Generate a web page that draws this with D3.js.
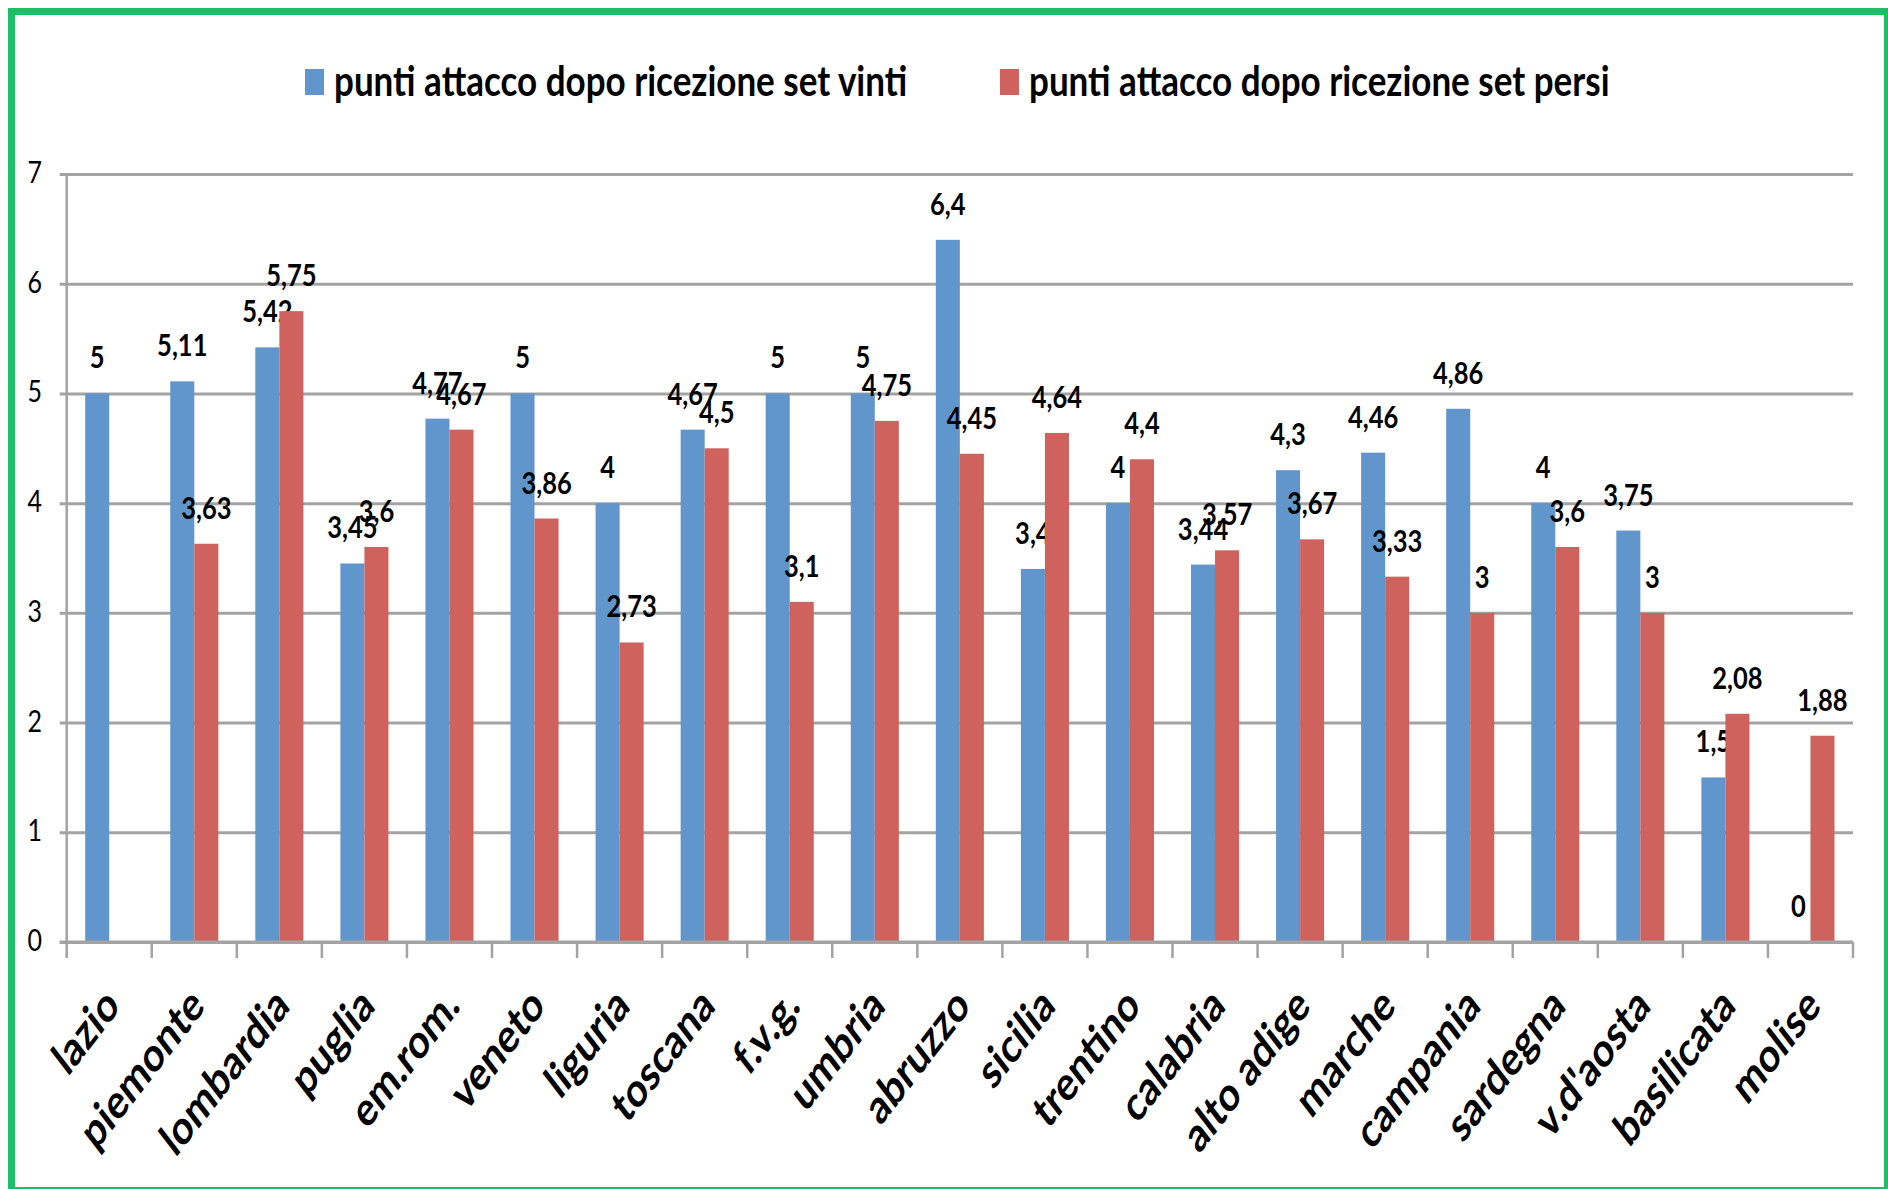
<!DOCTYPE html>
<html>
<head>
<meta charset="utf-8">
<script src="https://cdn.jsdelivr.net/npm/d3@7"></script>
<style>
  html, body { margin: 0; padding: 0; background: #ffffff; }
  svg { display: block; }
  text { font-family: Lato, "Open Sans", "Liberation Sans", sans-serif; fill: #000; }
</style>
</head>
<body>
<svg id="chart" width="1888" height="1189"></svg>
<script>
// Regions along the x axis
const categories = ["lazio", "piemonte", "lombardia", "puglia", "em.rom.", "veneto", "liguria",
  "toscana", "f.v.g.", "umbria", "abruzzo", "sicilia", "trentino", "calabria", "alto adige",
  "marche", "campania", "sardegna", "v.d'aosta", "basilicata", "molise"];

// Attack points after reception, sets won / sets lost (null = no value)
const setVinti = [5, 5.11, 5.42, 3.45, 4.77, 5, 4, 4.67, 5, 5, 6.4, 3.4, 4, 3.44, 4.3, 4.46, 4.86, 4, 3.75, 1.5, 0];
const setPersi = [null, 3.63, 5.75, 3.6, 4.67, 3.86, 2.73, 4.5, 3.1, 4.75, 4.45, 4.64, 4.4, 3.57, 3.67, 3.33, 3, 3.6, 3, 2.08, 1.88];

const seriesNames = ["punti attacco dopo ricezione set vinti", "punti attacco dopo ricezione set persi"];
const seriesColors = ["#6096cc", "#cf625c"];
const yTicks = [0, 1, 2, 3, 4, 5, 6, 7];

const svg = d3.select("#chart");

// Tall, narrow lettering: texts are stretched vertically around their anchor
const SY = 1.22;

// Frame
svg.append("rect")
  .attr("x", 11.5).attr("y", 11.5)
  .attr("width", 1876).attr("height", 1179)
  .attr("fill", "none").attr("stroke", "#1cbf66").attr("stroke-width", 7);

const plot = { left: 66.7, right: 1853, top: 174, bottom: 942 };

const x = d3.scaleBand().domain(categories).range([plot.left, plot.right]).padding(0);
const xs = d3.scaleBand().domain([0, 1]).range([0, x.bandwidth()]).paddingInner(0).paddingOuter(0.77);
const y = d3.scaleLinear().domain([0, 7]).range([plot.bottom, plot.top]);

const gridColor = "#a3a3a3";

// Horizontal gridlines with short left ticks
const yAxis = d3.axisLeft(y).tickValues(yTicks).tickSize(-(plot.right - plot.left)).tickFormat("");
const gy = svg.append("g").attr("transform", `translate(${plot.left},0)`).call(yAxis);
gy.select(".domain").remove();
gy.selectAll(".tick line").attr("stroke", gridColor).attr("stroke-width", 3).attr("x1", -7);

// Y tick labels
svg.append("g").selectAll("text").data(yTicks).join("text")
  .attr("transform", d => `translate(42,${y(d) + 9}) scale(1,${SY})`)
  .attr("text-anchor", "end")
  .attr("font-size", 25).attr("font-weight", 400)
  .text(d => d);

// Vertical axis line
svg.append("line")
  .attr("x1", plot.left).attr("x2", plot.left)
  .attr("y1", y(7)).attr("y2", y(0))
  .attr("stroke", gridColor).attr("stroke-width", 2.5);

// Category boundary ticks below the baseline
const bounds = categories.map(c => x(c)).concat([plot.right]);
svg.append("g").selectAll("line").data(bounds).join("line")
  .attr("x1", d => d).attr("x2", d => d)
  .attr("y1", y(0)).attr("y2", y(0) + 16)
  .attr("stroke", gridColor).attr("stroke-width", 2.5);

// Bars
const rows = categories.map((c, i) => ({ c, vals: [setVinti[i], setPersi[i]] }));
const groups = svg.append("g").selectAll("g").data(rows).join("g")
  .attr("transform", d => `translate(${x(d.c)},0)`);

const cells = groups.selectAll("g.cell")
  .data(d => d.vals.map((v, s) => ({ v, s })).filter(e => e.v !== null))
  .join("g").attr("class", "cell");

cells.append("rect")
  .attr("x", d => xs(d.s))
  .attr("width", xs.bandwidth())
  .attr("y", d => y(d.v))
  .attr("height", d => y(0) - y(d.v))
  .attr("fill", d => seriesColors[d.s]);

// Baseline drawn over bar bottoms
svg.append("line")
  .attr("x1", plot.left - 7).attr("x2", plot.right)
  .attr("y1", y(0)).attr("y2", y(0))
  .attr("stroke", gridColor).attr("stroke-width", 3);

// Value labels (comma decimal separator)
const itFmt = d3.formatLocale({ decimal: ",", thousands: ".", grouping: [3], currency: ["", " €"] }).format(".3~g");
cells.append("text")
  .attr("transform", d => `translate(${xs(d.s) + xs.bandwidth() / 2},${y(d.v) - 25}) scale(1,${SY})`)
  .attr("text-anchor", "middle")
  .attr("font-size", 25.5).attr("font-weight", 700)
  .text(d => itFmt(d.v));

// Rotated category labels (stretched like the rest of the lettering)
svg.append("g").selectAll("text").data(categories).join("text")
  .attr("transform", c => `translate(${x(c) + x.bandwidth() / 2 + 12},${y(0) + 66}) scale(1,1.3) rotate(-45)`)
  .attr("text-anchor", "end")
  .attr("font-size", 37).attr("font-weight", 700)
  .text(c => c);

// Legend
const legendX = [305, 1000];
const lg = svg.append("g").selectAll("g").data(seriesNames).join("g")
  .attr("transform", (d, i) => `translate(${legendX[i]},0)`);
lg.append("rect").attr("x", 0).attr("y", 69).attr("width", 19).attr("height", 26)
  .attr("fill", (d, i) => seriesColors[i]);
lg.append("text")
  .attr("transform", `translate(29,96) scale(1,${SY})`)
  .attr("font-size", 35).attr("font-weight", 700)
  .text(d => d);
</script>
</body>
</html>
